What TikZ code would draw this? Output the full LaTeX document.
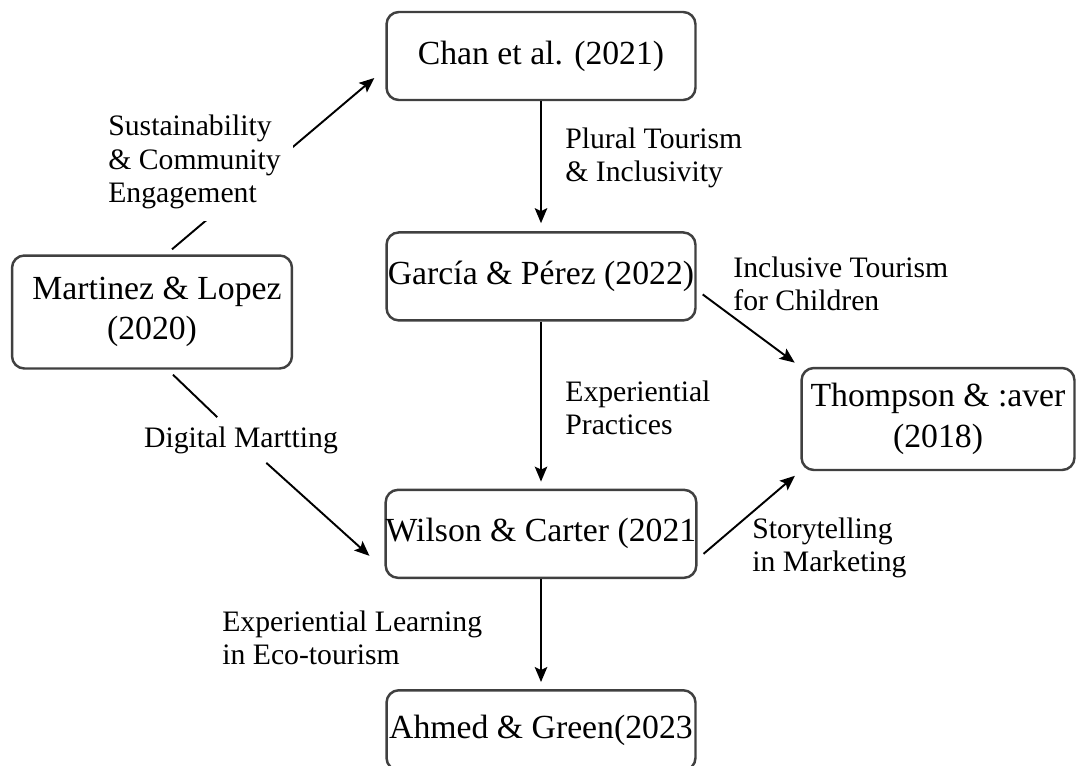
\documentclass[tikz,border=0pt]{standalone}
\usepackage{fontspec}
\setmainfont{Liberation Serif}
\usetikzlibrary{positioning,calc,arrows.meta}

\tikzset{
  paper/.style = {draw = black!75, line width = 1.4pt, rounded corners = 7pt,
    minimum width = 6.18cm, minimum height = 1.76cm, align = center,
    inner xsep = 0pt, inner ysep = 2pt, font = \fontsize{19.2}{23}\selectfont},
  note/.style = {align = left, inner sep = 0pt, font = \fontsize{16.9}{19}\selectfont},
  link/.style = {line width = 1.1pt, -{Stealth[length = 3mm, width = 2.5mm, inset = 0.6mm]}},
  plain/.style = {line width = 1.1pt},
}

\begin{document}
\begin{tikzpicture}[x = 0.02cm, y = -0.02cm]
    \useasboundingbox (0,0) rectangle (1077,765);
    \node[paper] (chan) at (541,56) {Chan et al. (2021)};
    \node[paper, below = 2.6cm of chan] (garcia) {García \& Pérez (2022)};
    \node[paper, below = 3.34cm of garcia] (wilson) {Wilson \& Carter (2021};
    \node[paper, minimum height = 1.6cm, below = 2.2cm of wilson] (ahmed) {Ahmed \& Green(2023};
    \node[paper, minimum width = 5.6cm, minimum height = 2.26cm] (mart) at (152,312) {\hspace{0.2cm}Martinez \& Lopez\\(2020)};
    \node[paper, minimum width = 5.46cm, minimum height = 2.04cm] (thom) at (938,419) {Thompson \& :aver\\(2018)};

    \node[note, inner ysep = 0.18cm] (dm) at (241,440) {Digital Martting};

    \draw[link, shorten > = 0.16cm] (chan) -- (garcia);
    \draw[link, shorten > = 0.14cm] (garcia) -- (wilson);
    \draw[link, shorten > = 0.14cm] (wilson) -- (ahmed);
    \draw[link, shorten > = 0.14cm] ($(garcia.east) + (6,18)$) -- (thom.north west);
    \draw[link, shorten > = 0.14cm] ($(wilson.east) + (6,20)$) -- (thom.south west);
    \draw[link] ($(mart.north) + (20,-5)$) -- ($(chan.west) + (-11,22)$);
    \draw[plain] ($(mart.south) + (21,5)$) -- (dm);
    \draw[link] (dm) -- ($(wilson.west) + (-15,22)$);

    \node[note, fill = white, inner sep = 0.24cm, anchor = west] (se) at (96,162)
      {Sustainability\\\& Community\\Engagement};
    \node[note, anchor = west] (pt) at (565,158) {Plural Tourism\\\& Inclusivity};
    \node[note, anchor = west] (it) at (733,284) {Inclusive Tourism\\for Children};
    \node[note, anchor = west] (ep) at (565,408) {Experiential\\Practices};
    \node[note, anchor = west] (sm) at (752,548) {Storytelling\\in Marketing};
    \node[note, anchor = west] (el) at (222,638) {Experiential Learning\\in Eco-tourism};
\end{tikzpicture}
\end{document}
